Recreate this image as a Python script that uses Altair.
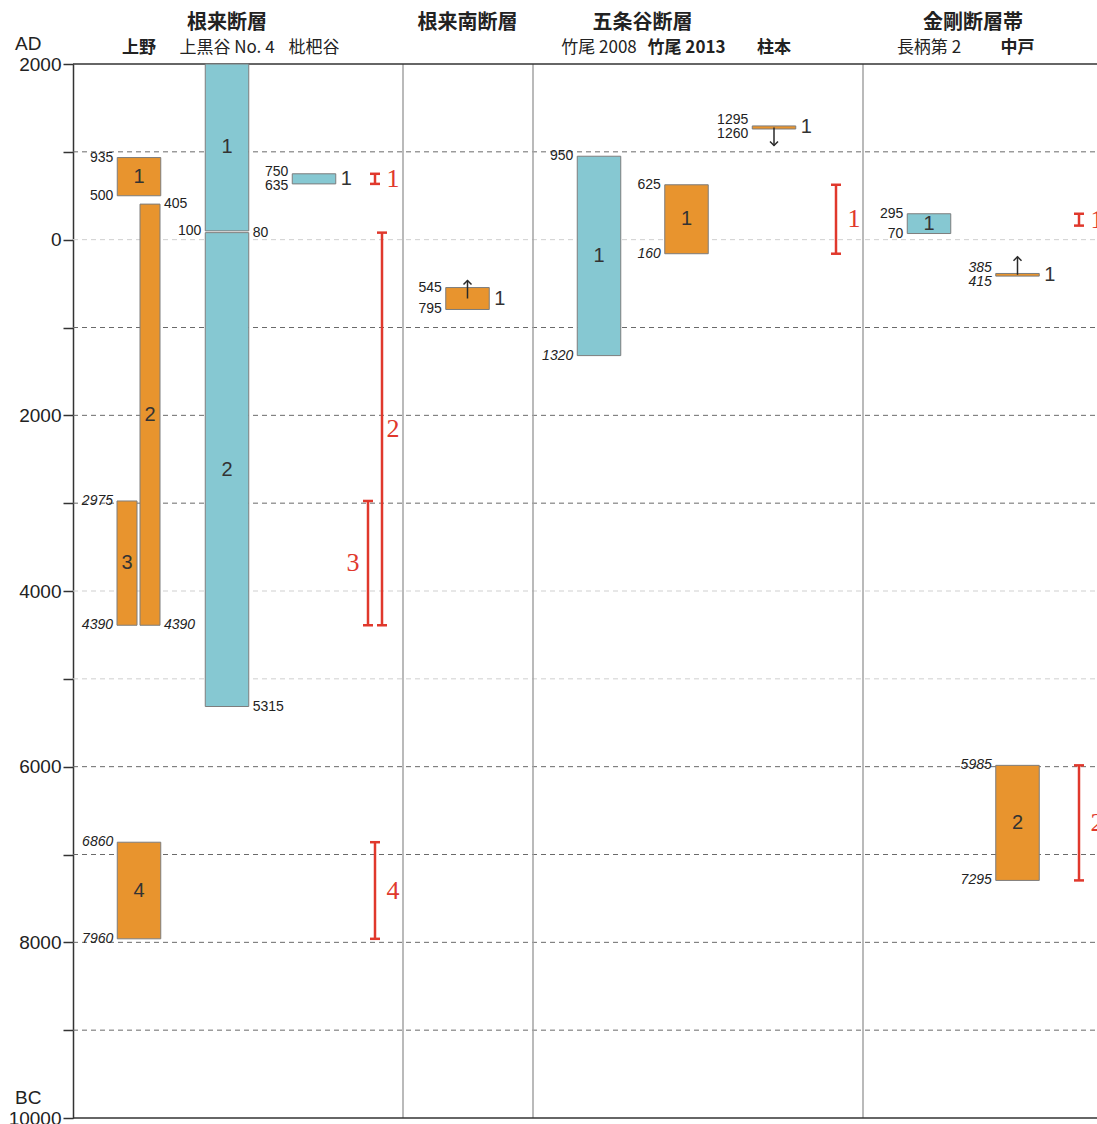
import altair as alt
import pandas as pd

# ---------------------------------------------------------------
# Data (years: AD positive, BC negative)
# ---------------------------------------------------------------
group_names = ["根来断層", "根来南断層", "五条谷断層", "金剛断層帯"]

site_names = ["上野", "上黒谷 No. 4", "枇杷谷", "根来南",
              "竹尾 2008", "竹尾 2013", "柱本", "長柄第 2", "中戸"]
site_has_header = [True, True, True, False, True, True, True, True, True]

# dated ranges found at each site
bar_site = ["上野", "上野", "上野", "上野",
            "上黒谷 No. 4", "上黒谷 No. 4", "枇杷谷", "根来南",
            "竹尾 2008", "竹尾 2013", "柱本", "長柄第 2", "中戸", "中戸"]
bar_event = [1, 2, 3, 4, 1, 2, 1, 1, 1, 1, 1, 1, 1, 2]
bar_young = [935, 405, -2975, -6860, 2000, 80, 750, -545,
             950, 625, 1295, 295, -385, -5985]
bar_old = [500, -4390, -4390, -7960, 100, -5315, 635, -795,
           -1320, -160, 1260, 70, -415, -7295]
bar_type = ["event", "event", "event", "event", "bracket", "bracket", "bracket", "event",
            "bracket", "event", "event", "bracket", "event", "event"]
bar_arrow = ["", "", "", "", "", "", "", "up", "", "", "down", "", "up", ""]

# which end ages are written, and which are set in italics
bar_young_shown = [1, 1, 1, 1, 0, 1, 1, 1, 1, 1, 1, 1, 1, 1]
bar_young_italic = [0, 0, 1, 1, 0, 0, 0, 0, 0, 0, 0, 0, 1, 1]
bar_old_italic = [0, 1, 1, 1, 0, 0, 0, 0, 1, 1, 0, 0, 1, 1]

# combined faulting events of each fault
ev_group = ["根来断層", "根来断層", "根来断層", "根来断層",
            "五条谷断層", "金剛断層帯", "金剛断層帯"]
ev_num = [1, 2, 3, 4, 1, 1, 2]
ev_young = [750, 80, -2975, -6860, 625, 295, -5985]
ev_old = [635, -4390, -4390, -7960, -160, 160, -7295]

# ---------------------------------------------------------------
# Layout and style
# ---------------------------------------------------------------
PLOT_W, PLOT_H = 1024, 1054
Y_TOP, Y_BOTTOM = 2000, -10000
PX_PER_YEAR = PLOT_H / (Y_TOP - Y_BOTTOM)

site_x = {"上野": 66, "上黒谷 No. 4": 154, "枇杷谷": 241, "根来南": 394.5,
          "竹尾 2008": 526, "竹尾 2013": 613.5, "柱本": 701,
          "長柄第 2": 856, "中戸": 944.5}
group_x = {"根来断層": 154, "根来南断層": 394.5, "五条谷断層": 569.5, "金剛断層帯": 900}
separator_x = [330, 460, 790]
lane = {"full": (-21.75, 21.75), "left": (-22, -2), "right": (1, 21)}
bar_lane = {("上野", 2): "right", ("上野", 3): "left"}
# end-age labels written on the right-hand side of these bars
right_labelled = {("上野", 2), ("上黒谷 No. 4", 2)}

red_x = {"根来断層": 302, "五条谷断層": 763, "金剛断層帯": 1006}
red_shift = {("根来断層", 2): 7, ("根来断層", 3): -7}
red_label_left = {("根来断層", 3)}

ORANGE, BLUE, RED = "#E8942E", "#86C8D2", "#E0382C"
EDGE = "#7d7d7d"
INK = "#2a2a2a"
ARROW_PX = 18
CAP_HALF = 5

grid_dark = [1000, -1000, -2000, -3000, -6000, -7000, -8000, -9000]
grid_light = [0, -4000, -5000]

X_SCALE = alt.Scale(domain=[0, PLOT_W], nice=False, zero=False)
Y_SCALE = alt.Scale(domain=[Y_BOTTOM, Y_TOP], nice=False, zero=False)
Y_AXIS = alt.Axis(
    values=list(range(Y_BOTTOM, Y_TOP + 1, 1000)),
    labelExpr="datum.value % 2000 === 0 ? format(abs(datum.value), 'd') : ''",
    title=None, grid=False, tickSize=10, tickWidth=1.5, tickColor="#333",
    domainColor="#333", domainWidth=1.5, labelFontSize=19,
    labelFont="Liberation Sans", labelColor="#222", labelPadding=2,
    labelFlush=False, labelOverlap=False, labelBound=False,
)


def X(f):
    return alt.X(f, type="quantitative", scale=X_SCALE, axis=None)


def Y(f):
    return alt.Y(f, type="quantitative", scale=Y_SCALE, axis=Y_AXIS)


# ---------------------------------------------------------------
# Tables
# ---------------------------------------------------------------
bars = pd.DataFrame({
    "site": bar_site, "event": bar_event, "young": bar_young, "old": bar_old,
    "type": bar_type, "arrow": bar_arrow,
    "young_shown": bar_young_shown,
    "young_italic": bar_young_italic, "old_italic": bar_old_italic,
})
bars["cx"] = bars["site"].map(site_x)
bars["lane"] = [bar_lane.get((s, e), "full") for s, e in zip(bars.site, bars.event)]
bars["x0"] = bars["cx"] + bars["lane"].map(lambda l: lane[l][0])
bars["x1"] = bars["cx"] + bars["lane"].map(lambda l: lane[l][1])
bars["lx"] = (bars["x0"] + bars["x1"]) / 2
bars["mid"] = (bars["young"] + bars["old"]) / 2
bars["h_px"] = (bars["young"] - bars["old"]) * PX_PER_YEAR
bars["num"] = bars["event"].astype(str)
bars["num_outside"] = (bars["arrow"] != "") | (bars["h_px"] < 15)

# end-age labels (spread apart on very thin bars)
rows = []
for _, b in bars.iterrows():
    spread = max(0.0, (14 - b.h_px) / 2) / PX_PER_YEAR
    side = "R" if (b.site, b.event) in right_labelled else "L"
    if b.young_shown:
        rows.append({"x": b.x1 if side == "R" else b.x0, "y": b.young + spread,
                     "text": str(abs(b.young)), "side": side, "italic": bool(b.young_italic)})
    rows.append({"x": b.x1 if side == "R" else b.x0, "y": b.old - spread,
                 "text": str(abs(b.old)), "side": side, "italic": bool(b.old_italic)})
age_labels = pd.DataFrame(rows)

arrows = bars[bars["arrow"] != ""].copy()
arrows["tip"] = arrows["mid"] + arrows["arrow"].map({"up": 1, "down": -1}) * ARROW_PX / PX_PER_YEAR

events = pd.DataFrame({"group": ev_group, "num": ev_num, "young": ev_young, "old": ev_old})
events["x"] = [red_x[g] + red_shift.get((g, n), 0) for g, n in zip(events.group, events.num)]
events["mid"] = (events["young"] + events["old"]) / 2
events["lx"] = [red_x[g] + (-22 if (g, n) in red_label_left else 18)
                for g, n in zip(events.group, events.num)]
events["label"] = events["num"].astype(str)
caps = pd.concat([
    pd.DataFrame({"x0": events.x - CAP_HALF, "x1": events.x + CAP_HALF, "y": events.young}),
    pd.DataFrame({"x0": events.x - CAP_HALF, "x1": events.x + CAP_HALF, "y": events.old}),
])

site_types = bars.groupby("site")["type"].apply(lambda t: "event" in set(t))
headers = pd.DataFrame({"site": site_names, "show": site_has_header})
headers = headers[headers["show"]].copy()
headers["x"] = headers["site"].map(site_x)
headers["bold"] = headers["site"].map(site_types)
groups = pd.DataFrame({"name": group_names, "x": [group_x[g] for g in group_names]})

# ---------------------------------------------------------------
# Layers
# ---------------------------------------------------------------
layers = []

for vals, col in [(grid_light, "#cfcfcf"), (grid_dark, "#6a6a6a")]:
    layers.append(
        alt.Chart(pd.DataFrame({"y": vals})).mark_rule(
            color=col, strokeWidth=1, strokeDash=[5, 4]
        ).encode(y=Y("y"), x=alt.value(0), x2=alt.value(PLOT_W))
    )

layers.append(
    alt.Chart(pd.DataFrame({"x": separator_x})).mark_rule(color="#a3a3a3", strokeWidth=1.5)
    .encode(x=X("x"), y=alt.value(0), y2=alt.value(PLOT_H))
)
layers.append(
    alt.Chart(pd.DataFrame({"y": [Y_TOP, Y_BOTTOM]})).mark_rule(color="#333", strokeWidth=1.5)
    .encode(y=Y("y"), x=alt.value(0), x2=alt.value(PLOT_W))
)

layers.append(
    alt.Chart(bars).mark_rect(stroke=EDGE, strokeWidth=1).encode(
        x=X("x0"), x2="x1", y=Y("young"), y2="old",
        color=alt.Color("type:N", scale=alt.Scale(domain=["event", "bracket"],
                                                  range=[ORANGE, BLUE]), legend=None),
    )
)

for side in ["L", "R"]:
    for ital in [False, True]:
        sub = age_labels[(age_labels.side == side) & (age_labels.italic == ital)]
        if sub.empty:
            continue
        layers.append(
            alt.Chart(sub).mark_text(
                align="right" if side == "L" else "left", dx=-4 if side == "L" else 4,
                baseline="middle", fontSize=14, font="Liberation Sans",
                fontStyle="italic" if ital else "normal", color="#222",
            ).encode(x=X("x"), y=Y("y"), text="text:N")
        )

layers.append(
    alt.Chart(bars[~bars.num_outside]).mark_text(
        fontSize=20, font="Liberation Sans", color="#333", baseline="middle", align="center"
    ).encode(x=X("lx"), y=Y("mid"), text="num:N")
)
layers.append(
    alt.Chart(bars[bars.num_outside]).mark_text(
        fontSize=20, font="Liberation Sans", color="#333", baseline="middle", align="left", dx=5
    ).encode(x=X("x1"), y=Y("mid"), text="num:N")
)

layers.append(
    alt.Chart(arrows).mark_rule(color=INK, strokeWidth=1.5)
    .encode(x=X("cx"), y=Y("mid"), y2="tip")
)
for d, path in [("up", "M-1,1L0,0L1,1"), ("down", "M-1,-1L0,0L1,-1")]:
    layers.append(
        alt.Chart(arrows[arrows.arrow == d]).mark_point(
            shape=path, filled=False, size=64, stroke=INK, strokeWidth=1.5, opacity=1
        ).encode(x=X("cx"), y=Y("tip"))
    )

layers.append(
    alt.Chart(events).mark_rule(color=RED, strokeWidth=2.5)
    .encode(x=X("x"), y=Y("young"), y2="old")
)
layers.append(
    alt.Chart(caps).mark_rule(color=RED, strokeWidth=2.5)
    .encode(x=X("x0"), x2="x1", y=Y("y"))
)
layers.append(
    alt.Chart(events).mark_text(
        font="Liberation Serif", fontSize=26, color=RED, align="center", baseline="middle"
    ).encode(x=X("lx"), y=Y("mid"), text="label:N")
)

layers.append(
    alt.Chart(groups).mark_text(
        font="Noto Sans CJK JP", fontSize=20, fontWeight="bold", color="#222",
        align="center", baseline="middle"
    ).encode(x=X("x"), y=alt.value(-41), text="name:N")
)
for bold in [False, True]:
    layers.append(
        alt.Chart(headers[headers.bold == bold]).mark_text(
            font="Noto Sans CJK JP", fontSize=17, fontWeight="bold" if bold else "normal",
            color="#222", align="center", baseline="middle"
        ).encode(x=X("x"), y=alt.value(-16), text="site:N")
    )

layers.append(
    alt.Chart(pd.DataFrame({"y": [Y_TOP, Y_BOTTOM], "t": ["AD", "BC"]})).mark_text(
        font="Liberation Sans", fontSize=19, color="#222", align="left", baseline="middle", dy=-20
    ).encode(x=alt.value(-58), y=Y("y"), text="t:N")
)

chart = alt.layer(*layers).properties(
    width=PLOT_W, height=PLOT_H,
    padding={"left": 73, "top": 64, "right": 0, "bottom": 6},
    autosize=alt.AutoSizeParams(type="none"),
).configure_view(stroke=None)

chart.save("out.html", embed_options={"renderer": "svg", "actions": False})
